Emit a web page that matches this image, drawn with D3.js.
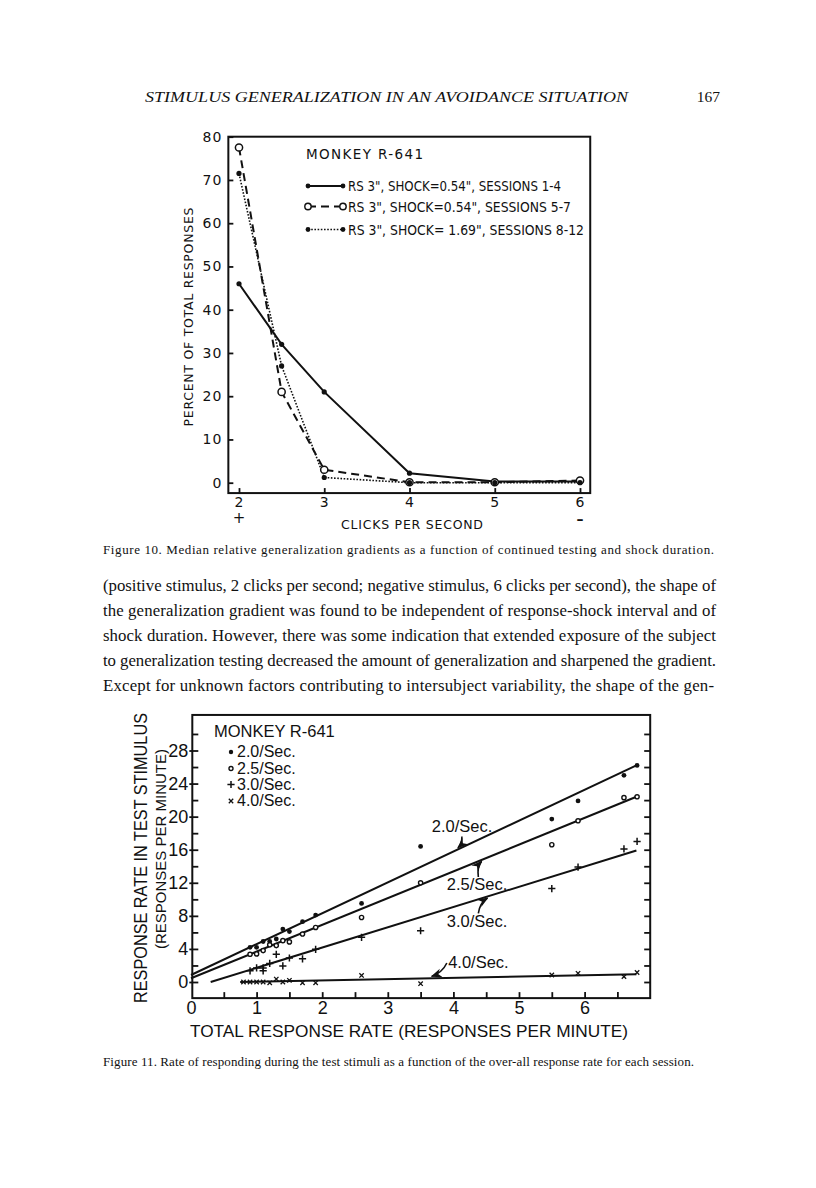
<!DOCTYPE html>
<html>
<head>
<meta charset="utf-8">
<script src="https://cdn.jsdelivr.net/npm/d3@7"></script>
<style>
  body { margin: 0; background: #fff; }
  svg { display: block; }
</style>
</head>
<body>
<svg id="page" width="816" height="1188"></svg>
<script>
// ---- Figure 10 data ----
const clicks = [2, 2.5, 3, 4, 5, 6];
const sessions1to4 = [46, 32, 21, 2.2, 0.3, 0.3];
const sessions5to7 = [77.5, 21, 3, 0.1, 0.1, 0.5];
const sessions8to12 = [71.5, 27, 1.2, 0, 0, 0];
const fig10YTicks = [0, 10, 20, 30, 40, 50, 60, 70, 80];
const fig10XTicks = [2, 3, 4, 5, 6];
const fig10Legend = ['RS 3", SHOCK=0.54", SESSIONS 1-4', 'RS 3", SHOCK=0.54", SESSIONS 5-7', 'RS 3", SHOCK= 1.69", SESSIONS 8-12'];

// ---- Figure 11 data ----
const rateX20 = [0.9, 1.0, 1.1, 1.2, 1.3, 1.4, 1.5, 1.7, 1.9, 2.6, 3.5, 5.5, 5.9, 6.6, 6.8];
const rate20 = [4.2, 4.2, 4.9, 4.9, 5.2, 6.4, 6.1, 7.3, 8.1, 9.5, 16.4, 19.7, 21.9, 25.0, 26.2];
const rateX25 = [0.9, 1.0, 1.1, 1.2, 1.3, 1.4, 1.5, 1.7, 1.9, 2.6, 3.5, 5.5, 5.9, 6.6, 6.8];
const rate25 = [3.35, 3.4, 3.8, 4.5, 4.4, 5.0, 4.85, 5.8, 6.6, 7.8, 12.0, 16.6, 19.5, 22.3, 22.4];
const rateX30 = [0.9, 1.0, 1.1, 1.1, 1.2, 1.3, 1.4, 1.5, 1.7, 1.9, 2.6, 3.5, 5.5, 5.9, 6.6, 6.8];
const rate30 = [1.35, 1.7, 1.7, 1.35, 2.25, 3.35, 1.95, 2.9, 2.8, 3.95, 5.4, 6.2, 11.3, 13.9, 16.1, 17.0];
const rateX40 = [0.8, 0.9, 1.0, 1.1, 1.2, 1.3, 1.4, 1.5, 1.7, 1.9, 2.6, 3.5, 5.5, 5.9, 6.6, 6.8];
const rate40 = [0, 0, 0, 0, -0.1, 0.35, 0, 0.2, -0.1, -0.1, 0.8, -0.2, 0.85, 1.05, 0.65, 1.15];
// fitted lines, [start, end] as [x, y]
const fit20 = [[0, 0.85], [6.79, 26.2]];
const fit25 = [[0, 0.45], [6.79, 22.4]];
const fit30 = [[0.3, 0], [6.79, 15.9]];
const fit40 = [[0.75, 0], [6.79, 0.93]];
const fig11YTicks = [0, 4, 8, 12, 16, 20, 24, 28];
const fig11XTicks = [0, 1, 2, 3, 4, 5, 6];
const fig11Legend = ['2.0/Sec.', '2.5/Sec.', '3.0/Sec.', '4.0/Sec.'];

// ---- page text ----
const runningHead = 'STIMULUS GENERALIZATION IN AN AVOIDANCE SITUATION';
const pageNumber = '167';
const caption10 = 'Figure 10. Median relative generalization gradients as a function of continued testing and shock duration.';
const caption11 = 'Figure 11. Rate of responding during the test stimuli as a function of the over-all response rate for each session.';
const bodyLines = [
  '(positive stimulus, 2 clicks per second; negative stimulus, 6 clicks per second), the shape of',
  'the generalization gradient was found to be independent of response-shock interval and of',
  'shock duration. However, there was some indication that extended exposure of the subject',
  'to generalization testing decreased the amount of generalization and sharpened the gradient.',
  'Except for unknown factors contributing to intersubject variability, the shape of the gen-'
];

const ink = '#111';
const serif = '"Liberation Serif", "DejaVu Serif", serif';
const sans = '"Liberation Sans", Arial, sans-serif';
const letter = '"DejaVu Sans", "Liberation Sans", sans-serif';
const intFmt = d3.format('d');

const svg = d3.select('#page');

// running head
svg.append('text').attr('x', 145).attr('y', 102)
   .attr('font-family', serif).attr('font-style', 'italic').attr('font-size', 15.5)
   .attr('textLength', 483).attr('lengthAdjust', 'spacingAndGlyphs')
   .attr('fill', ink).text(runningHead);
svg.append('text').attr('x', 720).attr('y', 102).attr('text-anchor', 'end')
   .attr('font-family', serif).attr('font-size', 15.5).attr('fill', ink).text(pageNumber);

// ================= Figure 10 =================
const x10 = d3.scaleLinear().domain([2, 6]).range([239, 580]);
const y10 = d3.scaleLinear().domain([0, 80]).range([482.7, 136.7]);
const f10 = svg.append('g');

f10.append('rect')
   .attr('x', x10(1.875)).attr('y', y10(80))
   .attr('width', x10(6.12) - x10(1.875)).attr('height', y10(-2.4) - y10(80))
   .attr('fill', 'none').attr('stroke', ink).attr('stroke-width', 2);

const ax10y = f10.append('g').attr('transform', `translate(${x10(1.875)},0)`)
   .call(d3.axisLeft(y10).tickValues(fig10YTicks).tickFormat(intFmt).tickSize(-5).tickPadding(6));
const ax10x = f10.append('g').attr('transform', `translate(0,${y10(-2.4)})`)
   .call(d3.axisBottom(x10).tickValues(fig10XTicks).tickFormat(intFmt).tickSize(-5).tickPadding(4));
[ax10y, ax10x].forEach(a => {
  a.select('.domain').remove();
  a.selectAll('line').attr('stroke', ink).attr('stroke-width', 1.8);
  a.selectAll('text').attr('font-family', letter).attr('font-size', 14)
   .attr('letter-spacing', 1).attr('fill', ink);
});

// + and - under the end stimuli
f10.append('text').attr('x', x10(2)).attr('y', 523).attr('text-anchor', 'middle')
   .attr('font-family', letter).attr('font-size', 15).attr('fill', ink).text('+');
f10.append('text').attr('x', x10(6)).attr('y', 524).attr('text-anchor', 'middle')
   .attr('font-family', letter).attr('font-size', 14).attr('font-weight', 'bold').attr('fill', ink).text('\u2013');

f10.append('text').attr('x', 412).attr('y', 529).attr('text-anchor', 'middle')
   .attr('font-family', letter).attr('font-size', 12.5).attr('textLength', 142)
   .attr('fill', ink).text('CLICKS PER SECOND');
f10.append('text').attr('transform', 'translate(193,317) rotate(-90)').attr('text-anchor', 'middle')
   .attr('font-family', letter).attr('font-size', 12.5).attr('textLength', 219)
   .attr('fill', ink).text('PERCENT OF TOTAL RESPONSES');

const line10 = d3.line().x((d, i) => x10(clicks[i])).y(d => y10(d));
const styles10 = [
  { data: sessions1to4, dash: null, width: 2, open: false },
  { data: sessions5to7, dash: '8,5', width: 2, open: true },
  { data: sessions8to12, dash: '1.6,1.6', width: 1.6, open: false }
];
styles10.forEach(s => {
  f10.append('path').datum(s.data).attr('d', line10)
     .attr('fill', 'none').attr('stroke', ink).attr('stroke-width', s.width)
     .attr('stroke-dasharray', s.dash);
});
styles10.forEach(s => {
  f10.selectAll(null).data(s.data).enter().append('circle')
     .attr('cx', (d, i) => x10(clicks[i])).attr('cy', d => y10(d))
     .attr('r', s.open ? 3.6 : 2.6)
     .attr('fill', s.open ? '#fff' : ink).attr('stroke', ink).attr('stroke-width', s.open ? 1.5 : 0);
});

// legend
f10.append('text').attr('x', 306).attr('y', 159).attr('font-family', letter).attr('font-size', 13.5)
   .attr('textLength', 117).attr('fill', ink).text('MONKEY R-641');
const legY = [186, 206.5, 229.5];
const legLen = [213, 223, 236];
styles10.forEach((s, i) => {
  const g = f10.append('g');
  g.append('line').attr('x1', 308).attr('x2', 343).attr('y1', legY[i]).attr('y2', legY[i])
   .attr('stroke', ink).attr('stroke-width', s.width).attr('stroke-dasharray', s.dash);
  [308, 343].forEach(cx => g.append('circle').attr('cx', cx).attr('cy', legY[i])
   .attr('r', s.open ? 3.2 : 2.4).attr('fill', s.open ? '#fff' : ink)
   .attr('stroke', ink).attr('stroke-width', s.open ? 1.4 : 0));
  g.append('text').attr('x', 348).attr('y', legY[i] + 5).attr('font-family', letter)
   .attr('font-size', 13.5).attr('textLength', legLen[i]).attr('lengthAdjust', 'spacingAndGlyphs')
   .attr('fill', ink).text(fig10Legend[i]);
});

// caption + body text
svg.append('text').attr('x', 103).attr('y', 554).attr('font-family', serif).attr('font-size', 13)
   .attr('textLength', 611).attr('lengthAdjust', 'spacing').attr('fill', ink).text(caption10);
bodyLines.forEach((t, i) => {
  svg.append('text').attr('x', 103).attr('y', 591 + i * 25).attr('font-family', serif)
     .attr('font-size', 16.8).attr('textLength', i === 4 ? 611 : 613).attr('lengthAdjust', 'spacing')
     .attr('fill', ink).text(t);
});

// ================= Figure 11 =================
const x11 = d3.scaleLinear().domain([0, 7]).range([191, 650.2]);
const y11 = d3.scaleLinear().domain([0, 28]).range([982, 750.5]);
const f11 = svg.append('g');
const frameL = x11(0.02), frameR = x11(7), frameT = y11(32.3), frameB = y11(-1.95);

f11.append('rect').attr('x', frameL).attr('y', frameT).attr('width', frameR - frameL).attr('height', frameB - frameT)
   .attr('fill', 'none').attr('stroke', ink).attr('stroke-width', 2);

const minorY = d3.range(0, 31, 2);
const minorX = d3.range(0.5, 7, 0.5);
const axes11 = [
  f11.append('g').attr('transform', `translate(${frameL},0)`)
     .call(d3.axisLeft(y11).tickValues(minorY).tickSize(-6).tickFormat('')),
  f11.append('g').attr('transform', `translate(${frameR},0)`)
     .call(d3.axisRight(y11).tickValues(minorY).tickSize(-6).tickFormat('')),
  f11.append('g').attr('transform', `translate(0,${frameB})`)
     .call(d3.axisBottom(x11).tickValues(minorX).tickSize(-6).tickFormat('')),
  f11.append('g').attr('transform', `translate(${frameL},0)`)
     .call(d3.axisLeft(y11).tickValues(fig11YTicks).tickFormat(intFmt).tickSize(3).tickPadding(1)),
  f11.append('g').attr('transform', `translate(0,${frameB})`)
     .call(d3.axisBottom(x11).tickValues(fig11XTicks).tickFormat(intFmt).tickSize(0).tickPadding(3))
];
axes11.forEach(a => {
  a.select('.domain').remove();
  a.selectAll('line').attr('stroke', ink).attr('stroke-width', 1.8);
  a.selectAll('text').attr('font-family', sans).attr('font-size', 18).attr('fill', ink);
});

// fitted lines
const line11 = d3.line().x(d => x11(d[0])).y(d => y11(d[1]));
[fit20, fit25, fit30, fit40].forEach(f => {
  f11.append('path').datum(f).attr('d', line11).attr('fill', 'none')
     .attr('stroke', ink).attr('stroke-width', 2);
});

// points
const dot = (xs, ys, open) => f11.selectAll(null).data(ys).enter().append('circle')
   .attr('cx', (d, i) => x11(xs[i])).attr('cy', d => y11(d))
   .attr('r', open ? 2.1 : 2.4).attr('fill', open ? '#fff' : ink)
   .attr('stroke', ink).attr('stroke-width', open ? 1.4 : 0);
dot(rateX20, rate20, false);
dot(rateX25, rate25, true);
const plusPath = 'M-3.6,0H3.6M0,-3.6V3.6';
const crossPath = 'M-2.2,-2.2L2.2,2.2M-2.2,2.2L2.2,-2.2';
f11.selectAll(null).data(rate30).enter().append('path')
   .attr('transform', (d, i) => `translate(${x11(rateX30[i])},${y11(d)})`)
   .attr('d', plusPath).attr('stroke', ink).attr('stroke-width', 1.5).attr('fill', 'none');
f11.selectAll(null).data(rate40).enter().append('path')
   .attr('transform', (d, i) => `translate(${x11(rateX40[i])},${y11(d)})`)
   .attr('d', crossPath).attr('stroke', ink).attr('stroke-width', 1.3).attr('fill', 'none');

// legend
f11.append('text').attr('x', 214).attr('y', 737).attr('font-family', sans).attr('font-size', 16.5)
   .attr('fill', ink).text('MONKEY R-641');
const leg11Y = [757, 773.5, 789.5, 806];
const legMarks = [
  g => g.append('circle').attr('r', 2.2).attr('fill', ink),
  g => g.append('circle').attr('r', 2.0).attr('fill', '#fff').attr('stroke', ink).attr('stroke-width', 1.4),
  g => g.append('path').attr('d', plusPath).attr('stroke', ink).attr('stroke-width', 1.5),
  g => g.append('path').attr('d', crossPath).attr('stroke', ink).attr('stroke-width', 1.3)
];
fig11Legend.forEach((t, i) => {
  const g = f11.append('g').attr('transform', `translate(231,${leg11Y[i] - 5})`);
  legMarks[i](g);
  f11.append('text').attr('x', 237).attr('y', leg11Y[i]).attr('font-family', sans)
     .attr('font-size', 16).attr('fill', ink).text(t);
});

// curve labels with arrows
svg.append('defs').append('marker').attr('id', 'ah').attr('viewBox', '0 0 10 10')
   .attr('refX', 9).attr('refY', 5).attr('markerWidth', 7).attr('markerHeight', 7)
   .attr('orient', 'auto-start-reverse')
   .append('path').attr('d', 'M0,1L10,5L0,9L3,5Z').attr('fill', ink);
const onFit = (f, x) => f[0][1] + (f[1][1] - f[0][1]) * (x - f[0][0]) / (f[1][0] - f[0][0]);
const notes = [
  { text: fig11Legend[0], tx: 3.67, ty: 18.2, from: [4.13, 17.6], at: 4.07, fit: fit20, bend: 2, off: -1.5 },
  { text: fig11Legend[1], tx: 3.9, ty: 11.1, from: [4.38, 12.7], at: 4.43, fit: fit25, bend: -3, off: 1.5 },
  { text: fig11Legend[2], tx: 3.9, ty: 6.6, from: [4.38, 8.3], at: 4.52, fit: fit30, bend: -3, off: 1.5 },
  { text: fig11Legend[3], tx: 3.92, ty: 1.65, from: [3.9, 2.3], at: 3.67, fit: fit40, bend: 3, off: -2 }
];
notes.forEach(n => {
  const x0 = x11(n.from[0]), yy0 = y11(n.from[1]);
  const x1 = x11(n.at), yy1 = y11(onFit(n.fit, n.at)) + n.off;
  const p = d3.path();
  p.moveTo(x0, yy0);
  p.quadraticCurveTo((x0 + x1) / 2 + n.bend, (yy0 + yy1) / 2 + n.bend, x1, yy1);
  f11.append('path').attr('d', p.toString()).attr('fill', 'none').attr('stroke', ink)
     .attr('stroke-width', 1.6).attr('marker-end', 'url(#ah)');
  f11.append('text').attr('x', x11(n.tx)).attr('y', y11(n.ty)).attr('font-family', sans)
     .attr('font-size', 16.5).attr('fill', ink).text(n.text);
});

// axis titles
f11.append('text').attr('x', 409).attr('y', 1037).attr('text-anchor', 'middle')
   .attr('font-family', sans).attr('font-size', 17).attr('textLength', 438)
   .attr('lengthAdjust', 'spacingAndGlyphs')
   .attr('fill', ink).text('TOTAL RESPONSE RATE (RESPONSES PER MINUTE)');
f11.append('text').attr('transform', 'translate(147,858) rotate(-90)').attr('text-anchor', 'middle')
   .attr('font-family', sans).attr('font-size', 17.5).attr('textLength', 290)
   .attr('lengthAdjust', 'spacingAndGlyphs')
   .attr('fill', ink).text('RESPONSE RATE IN TEST STIMULUS');
f11.append('text').attr('transform', 'translate(165.5,849) rotate(-90)').attr('text-anchor', 'middle')
   .attr('font-family', sans).attr('font-size', 15.5).attr('textLength', 200)
   .attr('lengthAdjust', 'spacingAndGlyphs')
   .attr('fill', ink).text('(RESPONSES PER MINUTE)');

svg.append('text').attr('x', 103).attr('y', 1066).attr('font-family', serif).attr('font-size', 13)
   .attr('textLength', 591).attr('lengthAdjust', 'spacing').attr('fill', ink).text(caption11);
</script>
</body>
</html>
